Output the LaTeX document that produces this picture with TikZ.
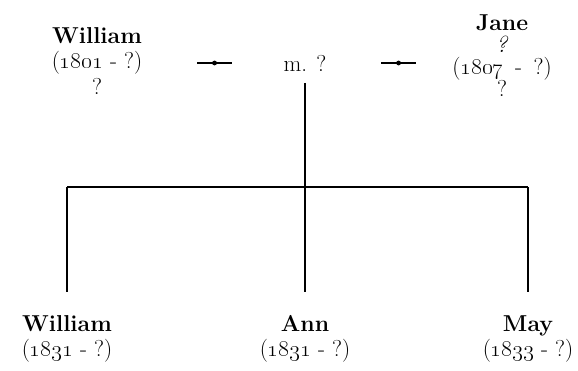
\RequirePackage{fix-cm}
\documentclass[tikz,border=0pt]{standalone}
\usetikzlibrary{positioning,calc}
\newcommand{\yrs}[2]{(\oldstylenums{#1} - #2)}
\begin{document}
\begin{tikzpicture}[x=1pt,y=1pt,font=\fontsize{23}{25.5}\selectfont,
    person/.style={align=center,inner sep=2pt},
    link/.style={line width=1.6pt},
    knot/.style={circle,fill,inner sep=1.7pt}]
  \useasboundingbox (0,0) rectangle (578,370);
  % parents and the marriage between them
  \node[person] (william) at (97,309) {\textbf{William}\\ \yrs{1801}{?}\\ ?};
  \node[person] (marr) at (305,307) {m. ?};
  \node[person,font=\fontsize{23}{22}\selectfont] (jane) at (502,314)
     {\textbf{Jane}\\ \textit{?}\\ (\oldstylenums{1807}\enspace-\enspace?)\\ ?};
  \draw[link,shorten <=100pt,shorten >=73pt] (william.center |- marr.center) -- (marr.center)
     node[knot,pos=0.565]{};
  \draw[link,shorten <=76pt,shorten >=86pt] (marr.center) -- (jane.center |- marr.center)
     node[knot,pos=0.475]{};
  % children
  \node[person] (kid1) at (67,31) {\textbf{William}\\ \yrs{1831}{?}};
  \node[person] (kid2) at (305,31) {\textbf{Ann}\\ \yrs{1831}{?}};
  \node[person] (kid3) at (528,31) {\textbf{May}\\ \yrs{1833}{?}};
  \coordinate (fork) at (marr.center |- 0,183);
  \draw[link,shorten <=20pt] (marr.center) -- (fork);
  \draw[link] (fork -| kid1) -- (fork -| kid3);
  \foreach \k in {kid1,kid2,kid3}
    \draw[link,shorten >=47pt] (fork -| \k) -- (\k.center);
\end{tikzpicture}
\end{document}
